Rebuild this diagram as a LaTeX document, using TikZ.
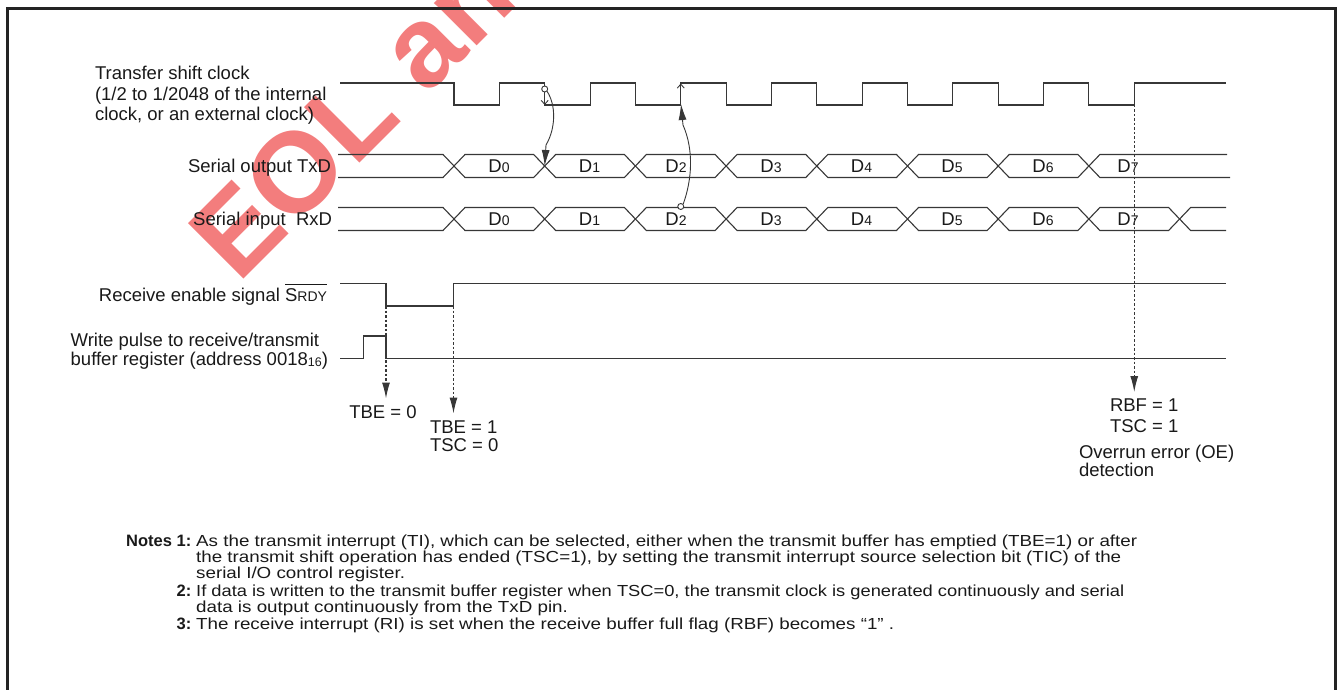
\documentclass[tikz,border=0pt]{standalone}
\usepackage{fontspec}
\setmainfont{Liberation Sans}
\usetikzlibrary{arrows.meta}
\definecolor{lc}{RGB}{55,55,55}
\definecolor{tc}{RGB}{25,25,25}
\definecolor{wm}{RGB}{243,125,125}
\definecolor{fc}{RGB}{35,35,35}
\newcommand\labf{\fontsize{18.5}{20.3}\selectfont}
\newcommand\smf{\fontsize{14}{14}\selectfont}
\newcommand\tinyf{\fontsize{12.5}{12.5}\selectfont}
\newcommand\nf{\fontsize{16}{16.5}\selectfont}
\newcommand\nbf{\fontsize{16.5}{16.5}\selectfont\bfseries}
\newcommand\srdybar{\setbox0=\hbox{S{\smf RDY}}\rlap{\rule[17pt]{\wd0}{0.9pt}}\box0}
\newcommand\nline[2]{\resizebox{#1pt}{\height}{#2}}
\newlength\notewd
\begin{document}
\settowidth\notewd{\nf As the transmit interrupt (TI), which can be selected, either when the transmit buffer has emptied (TBE=1) or after}%
\pgfmathsetmacro\nsx{941/\notewd}%
\begin{tikzpicture}[x=1pt,y=-1pt,
  sig/.style={draw=lc, line width=1.1pt, line join=miter},
  lbl/.style={inner sep=0pt, outer sep=0pt, text=tc, font=\labf},
  dl/.style={lbl, anchor=base},
  evt/.style={draw=lc, line width=1.1pt, dash pattern=on 2.5pt off 2pt, -{Latex[length=16pt,width=8pt]}},
  cause/.style={draw=lc, line width=0.9pt, -{Latex[length=16pt,width=8pt]}},
  tickarr/.style={draw=lc, line width=0.9pt, -{Straight Barb[length=4pt,width=7pt]}},
  ring/.style={circle, draw=lc, fill=white, line width=0.9pt, inner sep=0pt, minimum size=6pt},
  note/.style={inner sep=0pt, text=tc, font=\nf, anchor=base west},
  notenum/.style={inner sep=0pt, text=tc, font=\nbf, anchor=base east}]
\useasboundingbox (0,0) rectangle (1339,690);
% watermark
\node[anchor=base west, rotate=45, inner sep=0pt, text=wm, font=\fontsize{114}{114}\selectfont\bfseries] (wmk) at (238,285) {EOL announced};
% frame
\draw[line width=3pt, draw=fc] (7,8.5) rectangle (1335,705);
% clock
\draw[sig] (340,83) foreach \k in {0,...,7} { -- ({454+90.7*\k},83) -- ({454+90.7*\k},105) -- ({499.35+90.7*\k},105) -- ({499.35+90.7*\k},83) } -- (1226,83);
% TxD bus
\draw[sig] (338,154.5) -- (443,154.5) -- (454,166) -- (443,177.5) -- (338,177.5);
\foreach \k in {0,...,6} {
  \pgfmathsetmacro\xa{454+90.7*\k}
  \pgfmathsetmacro\xb{454+90.7*(\k+1)}
  \draw[sig] (\xa,166) -- ({\xa+11},154.5) -- ({\xb-11},154.5) -- (\xb,166) -- ({\xb-11},177.5) -- ({\xa+11},177.5) -- cycle;
}
\draw[sig] (1227,154.5) -- (1099.9,154.5) -- (1088.9,166) -- (1099.9,177.5) -- (1230,177.5);
% RxD bus
\draw[sig] (338,207.5) -- (443,207.5) -- (454,219) -- (443,230.5) -- (338,230.5);
\foreach \k in {0,...,7} {
  \pgfmathsetmacro\xa{454+90.7*\k}
  \pgfmathsetmacro\xb{454+90.7*(\k+1)}
  \draw[sig] (\xa,219) -- ({\xa+11},207.5) -- ({\xb-11},207.5) -- (\xb,219) -- ({\xb-11},230.5) -- ({\xa+11},230.5) -- cycle;
}
\draw[sig] (1226,207.5) -- (1190.6,207.5) -- (1179.6,219) -- (1190.6,230.5) -- (1226,230.5);
% data labels
\foreach \k/\x in {0/499,1/589.5,2/676,3/771,4/861.5,5/952,6/1043,7/1128} {
  \node[dl] (tx\k) at (\x,172.6) {D{\smf\k}};
  \node[dl] (rx\k) at (\x,225.6) {D{\smf\k}};
}
% SRDY and write pulse
\draw[sig] (340,283.3) -- (386,283.3) -- (386,306) -- (453.5,306) -- (453.5,283.3) -- (1226,283.3);
\draw[sig] (340,358.3) -- (363.5,358.3) -- (363.5,336) -- (386,336) -- (386,358.3) -- (1226,358.3);
% signal labels
\node[lbl, anchor=base west] (clk1) at (95,80) {Transfer shift clock};
\node[lbl, anchor=base west] (clk2) at (95,100.3) {(1/2 to 1/2048 of the internal};
\node[lbl, anchor=base west] (clk3) at (95,120.6) {clock, or an external clock)};
\node[lbl, anchor=base east] (ltx) at (331,172.6) {Serial output TxD};
\node[lbl, anchor=base east] (lrx) at (332,225.6) {Serial input\ \ RxD};
\node[lbl, anchor=base east] (lsr) at (327,301.6) {Receive enable signal \srdybar};
\node[lbl, anchor=base west] (lwp1) at (70.7,346.6) {Write pulse to receive/transmit};
\node[lbl, anchor=base west] (lwp2) at (70.7,365.6) {buffer register (address 0018\raisebox{-1pt}{\tinyf 16})};
% cause arrows
\coordinate (x1) at (544.7,166);
\coordinate (k1) at (544.7,105);
\coordinate (k2a) at (680.75,105);
\coordinate (k2b) at (680.75,83.5);
\coordinate (k2c) at (681,104);
\draw[tickarr] (544.7,92) -- (k1);
\draw[tickarr] (k2a) -- (k2b);
\node[ring] (r1) at (544.7,89) {};
\node[ring] (r2) at (680.75,206.5) {};
\draw[cause] (r1.south east) .. controls (556,105) and (556,128) .. (546,145) -- (x1);
\draw[cause] (r2.north east) .. controls (692,180) and (694,150) .. (683,125) -- (k2c);
% event arrows
\coordinate (e1) at (386,306);   \coordinate (t1) at (386,398.5);
\coordinate (e2) at (453.5,306); \coordinate (t2) at (453.5,413.5);
\coordinate (e3) at (1134.25,105); \coordinate (t3) at (1134.25,392);
\draw[evt] (e1) -- (t1);
\draw[evt] (e2) -- (t2);
\draw[evt] (e3) -- (t3);
% event texts
\node[lbl, anchor=base west] (tbe0) at (349.3,418.3) {TBE = 0};
\node[lbl, anchor=base west] (tbe1) at (430,433.3) {TBE = 1};
\node[lbl, anchor=base west] (tsc0) at (430,451.7) {TSC = 0};
\node[lbl, anchor=base west] (rbf1) at (1110,411.7) {RBF = 1};
\node[lbl, anchor=base west] (tsc1) at (1110,432) {TSC = 1};
\node[lbl, anchor=base west] (oe1) at (1079,458) {Overrun error (OE)};
\node[lbl, anchor=base west] (oe2) at (1079,476.7) {detection};
% notes
\node[notenum] (n1) at (191.5,546) {Notes 1:};
\node[note] (n1a) at (196,546) {\nline{941}{As the transmit interrupt (TI), which can be selected, either when the transmit buffer has emptied (TBE=1) or after}};
\node[note] (n1b) at (196,562) {\nline{925}{the transmit shift operation has ended (TSC=1), by setting the transmit interrupt source selection bit (TIC) of the}};
\node[note] (n1c) at (196,578) {\scalebox{\nsx}[1]{serial I/O control register.}};
\node[notenum] (n2) at (191.5,596) {2:};
\node[note] (n2a) at (196,596) {\nline{928}{If data is written to the transmit buffer register when TSC=0, the transmit clock is generated continuously and serial}};
\node[note] (n2b) at (196,612) {\scalebox{\nsx}[1]{data is output continuously from the TxD pin.}};
\node[notenum] (n3) at (191.5,629) {3:};
\node[note] (n3a) at (196,629) {\nline{698}{The receive interrupt (RI) is set when the receive buffer full flag (RBF) becomes “1” .}};
\end{tikzpicture}
\end{document}
